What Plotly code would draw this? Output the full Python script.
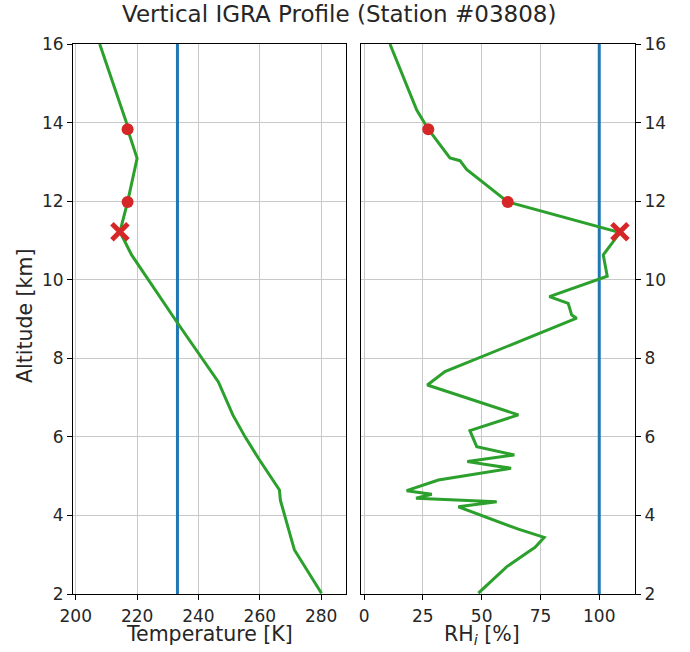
import plotly.graph_objects as go

# Temperature profile (K) vs altitude (km)
temp_alt = [16.0, 13.98, 13.83, 13.09, 11.98, 11.22, 10.63, 8.93, 7.40, 6.56, 6.00, 5.45, 4.65, 4.39, 3.20, 3.12, 2.02]
temp_K = [207.8, 216.6, 216.9, 220.0, 216.9, 214.4, 218.2, 232.9, 246.5, 251.2, 255.2, 259.6, 266.4, 266.7, 271.0, 271.3, 280.1]

# Relative humidity over ice (%) vs altitude (km)
rh_alt = [16.0, 14.32, 13.83, 13.10, 13.03, 12.81, 11.98, 11.69, 11.20, 10.63, 10.09, 9.57, 9.40, 9.10, 9.02,
          7.66, 7.32, 6.56, 6.16, 5.75, 5.54, 5.37, 5.20, 4.90, 4.63, 4.54, 4.44, 4.35, 4.22, 3.65, 3.44,
          3.18, 3.12, 2.69, 2.02]
rh_pct = [11.0, 22.4, 27.3, 36.5, 40.8, 43.6, 61.1, 79.0, 108.8, 101.7, 103.4, 78.8, 86.8, 88.3, 90.4,
          34.4, 26.9, 65.6, 45.0, 47.9, 63.9, 43.9, 62.5, 31.6, 18.1, 28.8, 22.1, 56.4, 40.1, 65.6, 76.6,
          72.6, 71.0, 60.6, 48.6]

# Highlighted levels
dot_alt = [13.83, 11.98]
dot_T = [216.9, 216.9]
dot_rh = [27.3, 61.1]
x_alt = [11.22]
x_T = [214.4]
x_rh = [108.8]

# Reference lines
T_threshold = 233.15
RH_threshold = 100

alt_range = [2, 16]
alt_ticks = [2, 4, 6, 8, 10, 12, 14, 16]
T_ticks = [200, 220, 240, 260, 280]
RH_ticks = [0, 25, 50, 75, 100]

GREEN = "#2ca02c"
BLUE = "#1f77b4"
RED = "#d62728"
FONT = "DejaVu Sans"
TXT = "#262626"

fig = go.Figure()

# left panel
fig.add_trace(go.Scatter(x=[T_threshold, T_threshold], y=alt_range, mode="lines",
                         line=dict(color=BLUE, width=3), xaxis="x", yaxis="y", showlegend=False))
fig.add_trace(go.Scatter(x=temp_K, y=temp_alt, mode="lines", line=dict(color=GREEN, width=3),
                         xaxis="x", yaxis="y", showlegend=False))
fig.add_trace(go.Scatter(x=dot_T, y=dot_alt, mode="markers", marker=dict(color=RED, size=12, symbol="circle"),
                         xaxis="x", yaxis="y", showlegend=False))
fig.add_trace(go.Scatter(x=x_T, y=x_alt, mode="markers", marker=dict(color=RED, size=16, symbol="x-thin",
                         line=dict(color=RED, width=5)), xaxis="x", yaxis="y", showlegend=False))

# right panel
fig.add_trace(go.Scatter(x=[RH_threshold, RH_threshold], y=alt_range, mode="lines",
                         line=dict(color=BLUE, width=3), xaxis="x2", yaxis="y2", showlegend=False))
fig.add_trace(go.Scatter(x=rh_pct, y=rh_alt, mode="lines", line=dict(color=GREEN, width=3),
                         xaxis="x2", yaxis="y2", showlegend=False))
fig.add_trace(go.Scatter(x=dot_rh, y=dot_alt, mode="markers", marker=dict(color=RED, size=12, symbol="circle"),
                         xaxis="x2", yaxis="y2", showlegend=False))
fig.add_trace(go.Scatter(x=x_rh, y=x_alt, mode="markers", marker=dict(color=RED, size=16, symbol="x-thin",
                         line=dict(color=RED, width=5)), xaxis="x2", yaxis="y2", showlegend=False))

W, H = 690, 652
y_dom = [1 - 594 / H, 1 - 44 / H]
axcommon = dict(showline=True, mirror=True, linecolor="black", linewidth=1,
                showgrid=True, gridcolor="#c8c8c8", gridwidth=1,
                ticks="outside", ticklen=5, tickcolor="black", automargin=False,
                tickfont=dict(family=FONT, size=17, color=TXT), zeroline=False)

fig.update_layout(
    width=W, height=H, margin=dict(l=0, r=0, t=0, b=0, autoexpand=False),
    paper_bgcolor="white", plot_bgcolor="white",
    xaxis=dict(domain=[73 / W, 346 / W], range=[199.1, 288.1], tickvals=T_ticks, anchor="y",
               ticklabelstandoff=2, **axcommon),
    yaxis=dict(domain=y_dom, range=alt_range, tickvals=alt_ticks, anchor="x", **axcommon),
    xaxis2=dict(domain=[361 / W, 635 / W], range=[-1.3, 115.2], tickvals=RH_ticks, anchor="y2",
                ticklabelstandoff=2, **axcommon),
    yaxis2=dict(domain=y_dom, range=alt_range, tickvals=alt_ticks, anchor="x2", side="right", **axcommon),
    annotations=[
        dict(text="Vertical IGRA Profile (Station #03808)", x=339 / W, y=1 - 14 / H, xref="paper", yref="paper",
             showarrow=False, font=dict(family=FONT, size=23, color=TXT), xanchor="center", yanchor="middle"),
        dict(text="Altitude [km]", x=25 / W, y=1 - 316 / H, xref="paper", yref="paper", textangle=-90,
             showarrow=False, font=dict(family=FONT, size=20.5, color=TXT), xanchor="center", yanchor="middle"),
        dict(text="Temperature [K]", x=209 / W, y=1 - 634 / H, xref="paper", yref="paper",
             showarrow=False, font=dict(family=FONT, size=20.5, color=TXT), xanchor="center", yanchor="middle"),
        dict(text="RH<sub><i>i</i></sub> [%]", x=482 / W, y=1 - 635 / H, xref="paper", yref="paper",
             showarrow=False, font=dict(family=FONT, size=20.5, color=TXT), xanchor="center", yanchor="middle"),
    ],
)

fig.write_html("out.html")
